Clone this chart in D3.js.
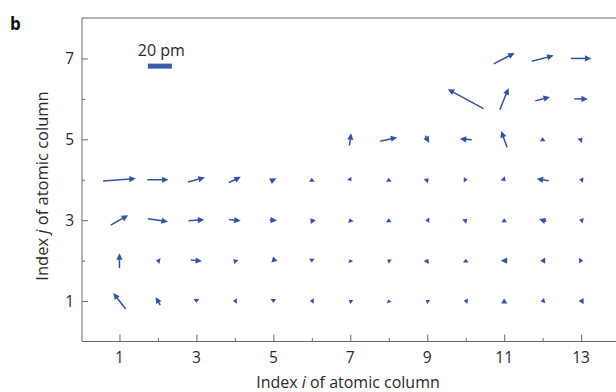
<!DOCTYPE html>
<html><head><meta charset="utf-8">
<script src="https://cdn.jsdelivr.net/npm/d3@7"></script>
<style>body{margin:0;background:#fff}svg{display:block}text{font-family:"Open Sans",sans-serif;fill:#2a2a2a}</style>
</head><body><svg id="c" width="616" height="392"></svg>
<script>
// Column index i (x) and row index j (y)
const colIdx = [1,2,3,4,5,6,7,8,9,10,11,12,13];
const rowIdx = [1,2,3,4,5,6,7];
const xTicks = [1,3,5,7,9,11,13];
const yTicks = [1,3,5,7];
// Displacement components in pm (u: +right, v: +up); null = no atomic column
const uRow1 = [-10.3,-3.9,0,-3.3,0,-3.3,-2.5,-0.8,-2.5,-3.3,0,-3.3,-4.2];
const vRow1 = [13.3,6.9,-3.3,0,-3.3,0,1.7,2.5,1.7,0.4,4.2,-0.8,0];
const uRow2 = [0,-3.3,9.4,-2.5,-3.3,0,-0.8,-2.5,1.7,0,-5.8,-4.2,3.3];
const vRow2 = [12.5,0.8,-1.1,2.5,-3.3,-3.3,2.5,1.7,3.3,3.3,0,0,0];
const uRow3 = [14.5,16.7,13.1,9.7,6.1,-2.5,-0.8,0,-3.3,2.5,0,-6.1,-3.3];
const vRow3 = [8.3,-2.5,1.1,-1.1,0,3.3,3.3,3.3,0,2.5,3.3,1.9,0.8];
const uRow4 = [27.2,17.8,14.2,10,5,0,1.7,0,2.5,3.3,2.5,-10,-3.3];
const vRow4 = [1.9,0,3.6,4.8,2.5,3.3,-2.5,3.3,2.5,0,-2.5,1.7,0.4];
const uRow5 = [null,null,null,null,null,null,1.4,14.2,3.3,-10,-5,0,2.5];
const vRow5 = [null,null,null,null,null,null,10.3,3.1,-6.1,0.8,13.8,3.3,2.5];
const uRow6 = [null,null,null,null,null,null,null,null,null,-29.8,7.3,12.3,11.4];
const vRow6 = [null,null,null,null,null,null,null,null,null,16.1,18.1,3.3,0];
const uRow7 = [null,null,null,null,null,null,null,null,null,null,17.3,18.3,17.2];
const vRow7 = [null,null,null,null,null,null,null,null,null,null,9.2,4.7,0];
const scaleBarPm = 20;
const scaleBarPos = [2.05, 6.81];

const uRows=[uRow1,uRow2,uRow3,uRow4,uRow5,uRow6,uRow7];
const vRows=[vRow1,vRow2,vRow3,vRow4,vRow5,vRow6,vRow7];
const vecs=[];
rowIdx.forEach((j,r)=>colIdx.forEach((i,c)=>{
  const u=uRows[r][c], v=vRows[r][c];
  if(u!==null && v!==null) vecs.push({i,j,u,v});
}));

const svg=d3.select("#c");
const color="#3352a3";
const x=d3.scaleLinear().domain([0,14]).range([81,619.6]);
const y=d3.scaleLinear().domain([0,8]).range([341.5,18]);
const pm=d3.scaleLinear().domain([0,20]).range([0,24]);

const axColor="#6a6a6a";
svg.append("line").attr("x1",82).attr("x2",616).attr("y1",y(8)).attr("y2",y(8)).attr("stroke",axColor).attr("stroke-width",1);
svg.append("line").attr("x1",82).attr("x2",82).attr("y1",y(8)).attr("y2",y(0)).attr("stroke",axColor).attr("stroke-width",1);
svg.append("line").attr("x1",82).attr("x2",616).attr("y1",y(0)).attr("y2",y(0)).attr("stroke",axColor).attr("stroke-width",1);

// x axis
const gx=svg.append("g").attr("transform",`translate(0,${y(0)})`);
gx.call(d3.axisTop(x).tickValues(d3.range(1,15)).tickSize(7).tickFormat(""));
gx.selectAll(".tick line").attr("stroke",axColor).attr("y2",d=>d%2?-7:-3.5);
gx.select(".domain").remove();
gx.selectAll(".tx").data(xTicks).enter().append("text").attr("class","tx")
  .attr("x",d=>x(d)).attr("y",21).attr("text-anchor","middle").style("font-size","15.5px").text(d=>d);
// y axis
const gy=svg.append("g").attr("transform",`translate(82,0)`);
gy.call(d3.axisRight(y).tickValues(d3.range(1,8)).tickSize(6).tickFormat(""));
gy.selectAll(".tick line").attr("stroke",axColor).attr("x2",d=>d%2?6:3);
gy.select(".domain").remove();
gy.selectAll(".ty").data(yTicks).enter().append("text").attr("class","ty")
  .attr("x",-8).attr("y",d=>y(d)).attr("dy","0.36em").attr("text-anchor","end").style("font-size","15.5px").text(d=>d);

// titles
const xt=svg.append("text").attr("x",348).attr("y",388).attr("text-anchor","middle").style("font-size","16px");
xt.append("tspan").text("Index ");
xt.append("tspan").style("font-style","italic").text("i");
xt.append("tspan").text(" of atomic column");
const yt=svg.append("text").attr("transform","translate(48,186) rotate(-90)").attr("text-anchor","middle").style("font-size","16.5px");
yt.append("tspan").text("Index ");
yt.append("tspan").style("font-style","italic").text("j");
yt.append("tspan").text(" of atomic column");
svg.append("text").attr("x",10).attr("y",30).style("font-size","17px").style("font-weight","bold").style("fill","#111").text("b");

// scale bar
const sbW=pm(scaleBarPm);
svg.append("rect").attr("x",x(scaleBarPos[0])-sbW/2).attr("y",y(scaleBarPos[1])-2.5).attr("width",sbW).attr("height",5).attr("fill","#3a5aab");
svg.append("text").attr("x",x(scaleBarPos[0])+1.5).attr("y",y(scaleBarPos[1])-10).attr("text-anchor","middle").style("font-size","16px").text(scaleBarPm+" pm");

// arrows
const g=svg.append("g");
vecs.forEach(d=>{
  const cx=x(d.i), cy=y(d.j);
  const vx=pm(d.u), vy=-pm(d.v);
  const L=Math.hypot(vx,vy);
  if(L<0.01) return;
  const ux=vx/L, uy=vy/L;
  const tx=cx-vx/2, ty=cy-vy/2, hx=cx+vx/2, hy=cy+vy/2;
  const hl=Math.min(6.5,L), hw=Math.max(2.6,Math.min(3.1,L*0.7));
  const bx=hx-ux*hl, by=hy-uy*hl;
  if(L>hl+0.5){
    g.append("line").attr("x1",tx).attr("y1",ty).attr("x2",bx+ux*0.5).attr("y2",by+uy*0.5)
      .attr("stroke",color).attr("stroke-width",1.5);
  }
  g.append("path").attr("d",`M${hx},${hy}L${bx-uy*hw},${by+ux*hw}L${bx+uy*hw},${by-ux*hw}Z`).attr("fill",color);
});
</script></body></html>
